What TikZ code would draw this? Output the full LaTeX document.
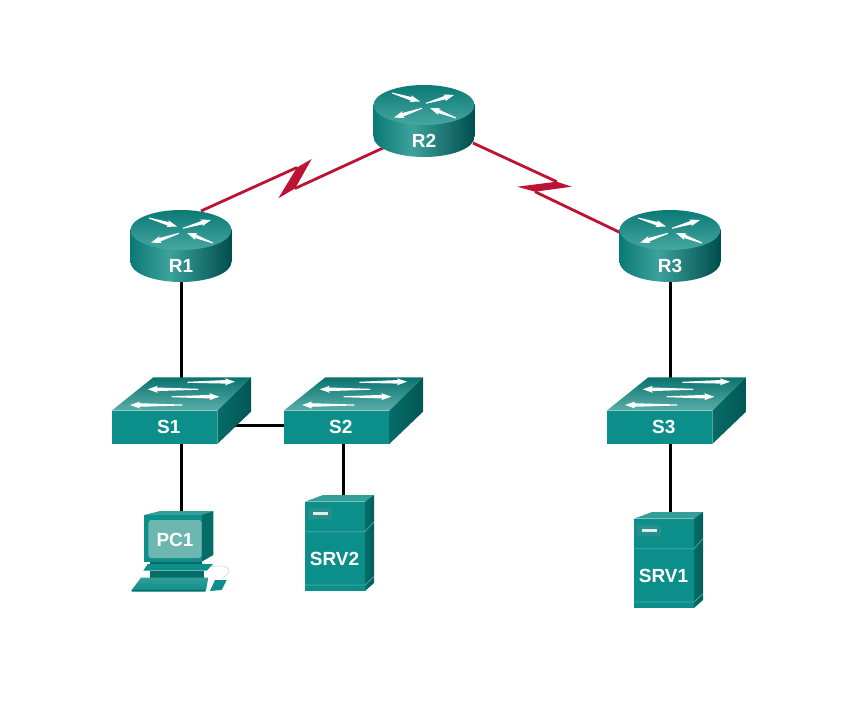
\documentclass[tikz,border=0pt]{standalone}
\usepackage{fontspec}
\setmainfont{Liberation Sans}
\usetikzlibrary{arrows.meta, backgrounds}
\definecolor{tealface}{RGB}{12,143,138}
\definecolor{tealdark}{RGB}{6,108,104}
\definecolor{teallight}{RGB}{110,182,176}
\definecolor{tealmid}{RGB}{52,158,152}
\definecolor{tealdeep}{RGB}{0,78,78}
\definecolor{serialcol}{RGB}{190,18,52}
\pgfdeclarehorizontalshading{routerside}{100bp}{
    color(0bp)=(tealface!85!black); color(25bp)=(tealface!85!black);
    color(44bp)=(tealmid!85!teallight); color(75bp)=(tealdeep); color(100bp)=(tealdeep)}

% tail x, tail y, head x, head y
\newcommand{\flowarrow}[4]{%
    \pgfmathsetmacro\flowlen{veclen(#3-#1,#4-#2)}%
    \pgfmathsetmacro\flowang{atan2(#2-#4,#3-#1)}%
    \fill[white, shift={(#1,#2)}, rotate=\flowang]
        (0,-0.5) -- (\flowlen-9,-1.8) -- (\flowlen-10,-3.5) -- (\flowlen,0)
        -- (\flowlen-10,3.5) -- (\flowlen-9,1.8) -- (0,0.5) -- cycle;}

\tikzset{
    devlabel/.style = {font=\bfseries\fontsize{19}{19}\selectfont, text=white, inner sep=0pt},
    router/.pic = {
        \shade[shading=routerside] (-50.5,0) rectangle (50.5,32);
        \shade[shading=routerside] (0,32) ellipse (50.5 and 20);
        \shade[top color=tealface!85!black, bottom color=teallight!60!tealface]
            (0,0) ellipse (50.5 and 20);
        \flowarrow{-32}{-12}{-4}{-3.5}
        \flowarrow{2}{-1.7}{30}{-10}
        \flowarrow{-2}{3.3}{-30}{12.7}
        \flowarrow{32}{13}{6}{3}
        \node[devlabel] (-label) at (0,36) {#1};
        \coordinate (-ne) at (20,-19);
        \coordinate (-sw) at (-41,43);
        \coordinate (-se) at (49,38);
        \coordinate (-west) at (-49,3);
        \coordinate (-bot) at (0,50);
    },
    switchbox/.pic = {
        \fill[tealface] (0,0) rectangle (105.6,33.3);
        \shade[top color=tealface!80!black, bottom color=teallight!80!tealface]
            (0,0) -- (41.6,-33.4) -- (139.3,-33.4) -- (105.6,0) -- cycle;
        \shade[left color=tealdark, right color=tealdeep!70!tealdark]
            (105.6,0) -- (139.3,-33.4) -- (139.3,1) -- (105.6,33.3) -- cycle;
        \flowarrow{75.6}{-28.4}{123.3}{-29}
        \flowarrow{86.6}{-21.4}{36}{-21.4}
        \flowarrow{60}{-14}{107.6}{-14}
        \flowarrow{70.6}{-5.7}{18.3}{-5.7}
        \node[devlabel] (-label) at (57,16.5) {#1};
        \coordinate (-top) at (69.3,-33);
        \coordinate (-bot) at (69.3,33);
        \coordinate (-west) at (0,15);
        \coordinate (-east) at (120,15);
    },
    server/.pic = {
        \fill[tealface] (0,6.7) rectangle (60,96);
        \fill[tealmid] (0,6.7) -- (18,0) -- (69,0) -- (60,6.7) -- cycle;
        \shade[left color=tealdark, right color=tealdeep!50!tealdark]
            (60,6.7) -- (69,0) -- (69,88) -- (60,96) -- cycle;
        \draw[teallight!70!tealface, line width=0.7pt] (0,36.7) -- (60,36.7) -- (69,26.7);
        \draw[teallight!70!tealface, line width=0.7pt] (0,90) -- (60,90) -- (69,81.7);
        \fill[tealmid!70!tealdark] (3,13) rectangle (26.7,23.5);
        \fill[white!85!tealface] (7.5,16.5) rectangle (23,19.5);
        \node[devlabel] (-label) at (29.5,64) {#1};
        \coordinate (-top) at (38,0);
    },
    pcbox/.pic = {
        \fill[tealmid] (0,0) -- (16,-4) -- (69.3,-4) -- (57.7,0) -- cycle;
        \fill[tealdark] (57.7,0) -- (69.3,-4) -- (69.3,40) -- (57.7,46.7) -- cycle;
        \fill[tealface] (0,0) rectangle (57.7,46.7);
        \fill[teallight, rounded corners=3pt] (4.3,5) rectangle (57.7,43);
        \fill[tealdark] (6,46.7) rectangle (58,49);
        \fill[tealface] (-0.7,55.7) -- (3.7,49) -- (69,49) -- (62.7,55.7) -- cycle;
        \fill[tealdark] (6,55.7) rectangle (60.3,62.7);
        \shade[top color=tealmid, bottom color=tealface]
            (-3,62.7) -- (64.3,62.7) -- (62,75) -- (-12.3,75) -- cycle;
        \fill[tealdark] (-12.3,75) -- (62,75) -- (61,76.7) -- (-12.3,76.7) -- cycle;
        \fill[tealface] (71,65) -- (82.7,65) -- (77.7,75) -- (66,76) -- cycle;
        \draw[gray!45, line width=0.4pt] (67,52) .. controls (78,49) and (88,52) .. (84,58)
            .. controls (83,61) and (79,61) .. (77.7,65);
        \node[devlabel] (-label) at (31,25) {#1};
        \coordinate (-top) at (37,-4);
    },
}

\begin{document}
\begin{tikzpicture}[x=1pt, y=-1pt,
    lan/.style    = {line width=3pt, color=black},
    serial/.style = {line width=2.8pt, color=serialcol},
    zap/.style    = {fill=serialcol},
]
\useasboundingbox (0,0) rectangle (849,722);

% ── Routers ─────────────────────────────────────────────────────
\pic (r2) at (424,105) {router={R2}};
\pic (r1) at (181,230) {router={R1}};
\pic (r3) at (670,230) {router={R3}};

% ── Switches ────────────────────────────────────────────────────
\pic (s1) at (111.7,410.7) {switchbox={S1}};
\pic (s2) at (283.7,410.7) {switchbox={S2}};
\pic (s3) at (606.7,410.7) {switchbox={S3}};

% ── End devices ─────────────────────────────────────────────────
\pic (pc1) at (144,515) {pcbox={PC1}};
\pic (srv2) at (305,495) {server={SRV2}};
\pic (srv1) at (634,512) {server={SRV1}};

% ── Serial bends ────────────────────────────────────────────────
\coordinate (z1a) at (311.7,159);
\coordinate (z1b) at (297,167.5);
\coordinate (z1c) at (278.3,198.3);
\coordinate (z1d) at (295,188.5);
\coordinate (z2a) at (571.7,186.7);
\coordinate (z2b) at (556.7,181.7);
\coordinate (z2c) at (517.3,186.7);
\coordinate (z2d) at (535,191.7);

% ── Links ───────────────────────────────────────────────────────
\begin{scope}[on background layer]
\draw[lan] (r1-bot) -- (r1-bot |- s1-top);
\draw[lan] (r3-bot) -- (r3-bot |- s3-top);
\draw[lan] (s1-east) -- (s2-west);
\draw[lan] (r1-bot |- s1-bot) -- (r1-bot |- pc1-top);
\draw[lan] (srv2-top |- s2-bot) -- (srv2-top);
\draw[lan] (r3-bot |- s3-bot) -- (r3-bot |- srv1-top);
\draw[serial] (r1-ne) -- (z1b);
\draw[serial] (z1d) -- (r2-sw);
\draw[serial] (r2-se) -- (z2b);
\draw[serial] (z2d) -- (r3-west);
\fill[zap] (z1a) -- (z1b) -- (z1c) -- (z1d) -- cycle;
\fill[zap] (z2a) -- (z2b) -- (z2c) -- (z2d) -- cycle;
\end{scope}
\end{tikzpicture}
\end{document}
